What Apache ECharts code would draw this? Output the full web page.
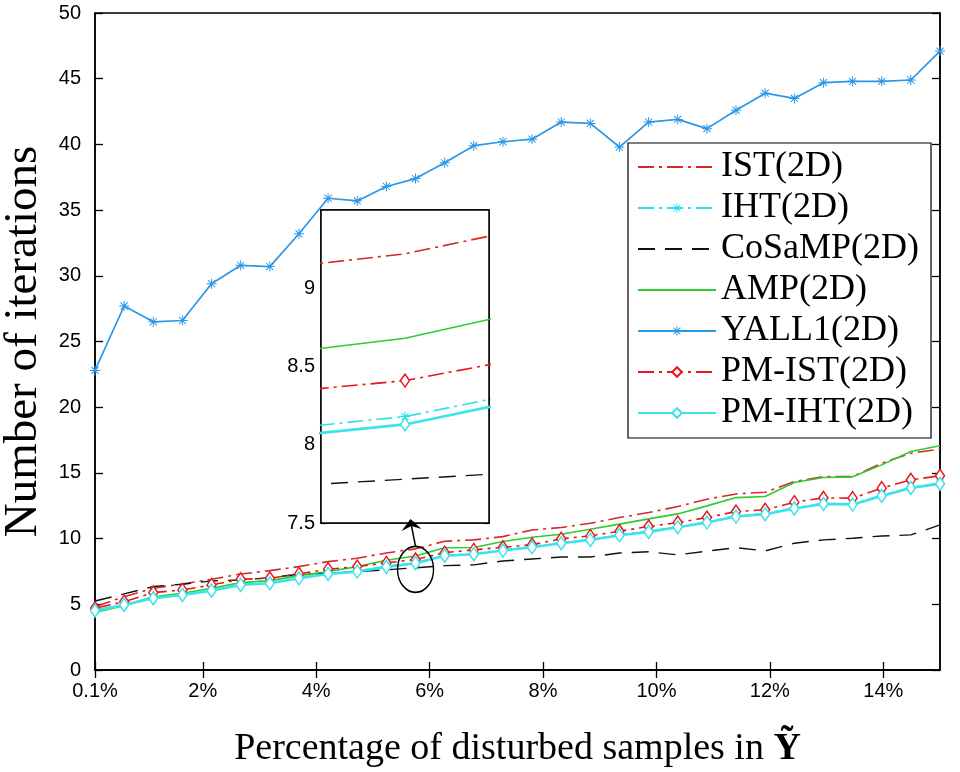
<!DOCTYPE html>
<html>
<head>
<meta charset="utf-8">
<script src="https://cdn.jsdelivr.net/npm/echarts@6/dist/echarts.min.js"></script>
<style>html,body{margin:0;padding:0;background:#fff}#c{width:960px;height:772px}</style>
</head>
<body>
<div id="c"></div>
<script>
// ---------------- data ----------------
const xPct = [0.1, 0.614, 1.128, 1.641, 2.155, 2.669, 3.183, 3.697, 4.210, 4.724,
              5.238, 5.752, 6.266, 6.779, 7.293, 7.807, 8.321, 8.834, 9.348, 9.862,
              10.376, 10.890, 11.403, 11.917, 12.431, 12.945, 13.459, 13.972, 14.486, 15.0];
const istV    = [4.82, 5.58, 6.22, 6.55, 6.90, 7.31, 7.56, 7.87, 8.25, 8.50,
                 8.91, 9.22, 9.80, 9.90, 10.15, 10.66, 10.84, 11.17, 11.60, 11.98,
                 12.44, 13.00, 13.40, 13.53, 14.34, 14.72, 14.72, 15.74, 16.50, 16.81];
const ihtV    = [4.56, 5.00, 5.50, 5.76, 6.09, 6.52, 6.65, 7.03, 7.36, 7.54,
                 7.90, 8.18, 8.74, 8.86, 9.14, 9.39, 9.70, 9.95, 10.31, 10.56,
                 10.92, 11.27, 11.73, 11.91, 12.34, 12.69, 12.64, 13.30, 13.91, 14.22];
const cosampV = [5.25, 5.79, 6.35, 6.53, 6.78, 6.85, 7.03, 7.29, 7.36, 7.49,
                 7.62, 7.78, 7.94, 8.00, 8.30, 8.45, 8.60, 8.60, 8.90, 9.00,
                 8.76, 9.05, 9.31, 9.06, 9.65, 9.90, 10.03, 10.20, 10.28, 11.04];
const ampV    = [4.37, 4.90, 5.58, 5.84, 6.22, 6.65, 6.80, 7.18, 7.49, 7.87,
                 8.35, 8.68, 9.30, 9.32, 9.78, 10.10, 10.33, 10.71, 11.10, 11.50,
                 11.88, 12.49, 13.12, 13.20, 14.27, 14.65, 14.70, 15.61, 16.63, 17.06];
const yall1V  = [22.8, 27.7, 26.5, 26.6, 29.4, 30.8, 30.7, 33.2, 35.9, 35.7,
                 36.8, 37.4, 38.6, 39.9, 40.2, 40.4, 41.7, 41.6, 39.8, 41.7,
                 41.9, 41.2, 42.6, 43.9, 43.5, 44.7, 44.8, 44.8, 44.9, 47.1];
const pmistV  = [4.70, 5.20, 5.89, 6.09, 6.47, 6.90, 6.98, 7.31, 7.67, 7.87,
                 8.15, 8.41, 8.93, 9.14, 9.34, 9.54, 9.98, 10.20, 10.56, 10.92,
                 11.22, 11.60, 12.06, 12.19, 12.77, 13.10, 13.08, 13.84, 14.47, 14.78];
const pmihtV  = [4.52, 4.95, 5.46, 5.71, 6.04, 6.47, 6.60, 6.98, 7.31, 7.49,
                 7.85, 8.13, 8.70, 8.81, 9.09, 9.34, 9.65, 9.90, 10.26, 10.51,
                 10.87, 11.22, 11.68, 11.86, 12.29, 12.64, 12.59, 13.25, 13.86, 14.17];
const xTicks = [0.1, 2, 4, 6, 8, 10, 12, 14];
const seriesNames = ['IST(2D)', 'IHT(2D)', 'CoSaMP(2D)', 'AMP(2D)', 'YALL1(2D)', 'PM-IST(2D)', 'PM-IHT(2D)'];
const insetX = [5.652, 5.852];
const insetY = [7.5, 9.5];
const zoomFocus = [5.752, 7.65];

// ---------------- styling ----------------
const STAR = 'path://M9 0L11 0L11 20L9 20Z M0 9L20 9L20 11L0 11Z M3.6 2.2L17.8 16.4L16.4 17.8L2.2 3.6Z M17.8 3.6L3.6 17.8L2.2 16.4L16.4 2.2Z';
const DASHDOT = [16, 5, 3, 5];
const styles = {
  'IST(2D)':    {color: '#D42A2A', type: DASHDOT, width: 1.6, symbol: 'none'},
  'IHT(2D)':    {color: '#2ADFEF', type: DASHDOT, width: 1.6, symbol: STAR, size: 10, star: true},
  'CoSaMP(2D)': {color: '#111111', type: [17, 10], width: 1.4, symbol: 'none'},
  'AMP(2D)':    {color: '#2ECC2E', type: 'solid', width: 1.6, symbol: 'none'},
  'YALL1(2D)':  {color: '#2B97E8', type: 'solid', width: 1.7, symbol: STAR, size: 10, star: true},
  'PM-IST(2D)': {color: '#E8161C', type: DASHDOT, width: 1.6, symbol: 'diamond', size: [9, 13]},
  'PM-IHT(2D)': {color: '#3DE3EA', type: 'solid', width: 2.6, symbol: 'diamond', size: [9, 13]}
};
const dataByName = {
  'IST(2D)': istV, 'IHT(2D)': ihtV, 'CoSaMP(2D)': cosampV, 'AMP(2D)': ampV,
  'YALL1(2D)': yall1V, 'PM-IST(2D)': pmistV, 'PM-IHT(2D)': pmihtV
};
function mkSeries(name, xi, yi, z) {
  const s = styles[name];
  const arr = dataByName[name];
  const itemStyle = s.star ? {color: s.color} : {color: '#fff', borderColor: s.color, borderWidth: 1.5};
  return {
    name: name, type: 'line', xAxisIndex: xi, yAxisIndex: yi, z: z,
    data: xPct.map((x, i) => [x, arr[i]]),
    symbol: s.symbol, symbolSize: s.size || 8, showSymbol: s.symbol !== 'none',
    itemStyle: itemStyle,
    lineStyle: {color: s.color, width: s.width, type: s.type},
    clip: true, silent: true
  };
}
const series = [];
seriesNames.forEach((n, k) => series.push(mkSeries(n, 0, 0, 2 + k * 0.01)));
seriesNames.filter(n => n !== 'YALL1(2D)').forEach((n, k) => series.push(mkSeries(n, 2, 2, 10 + k * 0.01)));

const legendData = seriesNames.map(n => styles[n].symbol === 'none'
  ? {name: n, itemStyle: {opacity: 0, borderWidth: 0}}
  : {name: n});

const SANS = 'Liberation Sans';
const SERIF = 'Liberation Serif';
const axisLine = {show: true, lineStyle: {color: '#000', width: 1.5}};

const option = {
  animation: false,
  backgroundColor: '#fff',
  grid: [
    {left: 95, right: 20, top: 13, bottom: 102, show: true, borderColor: '#000', borderWidth: 1.5,
     backgroundColor: 'rgba(0,0,0,0)', outerBoundsMode: 'none', containLabel: false},
    {left: 321, top: 210, width: 168, height: 313, show: true, borderColor: '#000', borderWidth: 1.5,
     backgroundColor: '#fff', z: 5, outerBoundsMode: 'none', containLabel: false}
  ],
  legend: {
    orient: 'vertical', left: 628, top: 143,
    data: legendData,
    itemWidth: 78, itemHeight: 12, itemGap: 5,
    padding: [6, 12, 7, 9],
    backgroundColor: '#fff', borderColor: '#000', borderWidth: 1.2,
    textStyle: {fontFamily: SERIF, fontSize: 36, color: '#000', lineHeight: 36, padding: [0, 0, 0, 0]},
    selectedMode: false, z: 20
  },
  xAxis: [
    {type: 'value', gridIndex: 0, min: 0.1, max: 15, position: 'bottom',
     axisLine: axisLine,
     axisTick: {show: true, inside: true, length: 8, customValues: xTicks, lineStyle: {color: '#000', width: 1.3}},
     axisLabel: {show: true, customValues: xTicks, formatter: v => v + '%', fontFamily: SANS, fontSize: 20, color: '#000', margin: 11},
     splitLine: {show: false},
     name: 'Percentage of disturbed samples in {b|Ỹ}', nameLocation: 'middle', nameGap: 60,
     nameTextStyle: {fontFamily: SERIF, fontSize: 38, color: '#000',
       rich: {b: {fontFamily: SERIF, fontSize: 38, fontWeight: 'bold', color: '#000'}}}},
    {type: 'value', gridIndex: 0, min: 0.1, max: 15, position: 'top',
     axisLine: axisLine,
     axisTick: {show: true, inside: true, length: 8, customValues: xTicks, lineStyle: {color: '#000', width: 1.3}},
     axisLabel: {show: false}, splitLine: {show: false}},
    {type: 'value', gridIndex: 1, min: insetX[0], max: insetX[1], position: 'bottom',
     axisLine: axisLine, axisTick: {show: false}, axisLabel: {show: false}, splitLine: {show: false}},
    {type: 'value', gridIndex: 1, min: insetX[0], max: insetX[1], position: 'top',
     axisLine: axisLine, axisTick: {show: false}, axisLabel: {show: false}, splitLine: {show: false}}
  ],
  yAxis: [
    {type: 'value', gridIndex: 0, min: 0, max: 50, interval: 5, position: 'left',
     axisLine: axisLine,
     axisTick: {show: true, inside: true, length: 8, lineStyle: {color: '#000', width: 1.3}},
     axisLabel: {fontFamily: SANS, fontSize: 20, color: '#000', margin: 14},
     splitLine: {show: false},
     name: 'Number of iterations', nameLocation: 'middle', nameRotate: 90, nameGap: 48,
     nameTextStyle: {fontFamily: SERIF, fontSize: 47, color: '#000'}},
    {type: 'value', gridIndex: 0, min: 0, max: 50, interval: 5, position: 'right',
     axisLine: axisLine,
     axisTick: {show: true, inside: true, length: 8, lineStyle: {color: '#000', width: 1.3}},
     axisLabel: {show: false}, splitLine: {show: false}},
    {type: 'value', gridIndex: 1, min: insetY[0], max: insetY[1], interval: 0.5, position: 'left',
     axisLine: axisLine,
     axisTick: {show: true, inside: true, length: 5, lineStyle: {color: '#000', width: 1.2}},
     axisLabel: {fontFamily: SANS, fontSize: 20, color: '#000', margin: 6, showMaxLabel: false},
     splitLine: {show: false}},
    {type: 'value', gridIndex: 1, min: insetY[0], max: insetY[1], interval: 0.5, position: 'right',
     axisLine: axisLine,
     axisTick: {show: true, inside: true, length: 5, lineStyle: {color: '#000', width: 1.2}},
     axisLabel: {show: false}, splitLine: {show: false}}
  ],
  series: series
};

const chart = echarts.init(document.getElementById('c'), null, {renderer: 'canvas'});
chart.setOption(option);

// annotation: ellipse around the zoomed point + arrow to inset
const c = chart.convertToPixel({xAxisIndex: 0, yAxisIndex: 0}, zoomFocus);
const insetBottom = chart.convertToPixel({xAxisIndex: 2, yAxisIndex: 2}, [insetX[0], insetY[0]])[1];
const rx = 18, ry = 23;
const tip = [c[0] - 5, insetBottom - 4];
const base = [c[0], c[1] - ry];
chart.setOption({
  graphic: [
    {type: 'circle', x: c[0], y: c[1], scaleX: 1, scaleY: ry / rx, shape: {cx: 0, cy: 0, r: rx},
     style: {fill: 'none', stroke: '#000', lineWidth: 1.4}, z: 30, silent: true},
    {type: 'line', shape: {x1: base[0], y1: base[1], x2: tip[0] + 1, y2: tip[1] + 7},
     style: {stroke: '#000', lineWidth: 1.5}, z: 30, silent: true},
    {type: 'polygon', shape: {points: [[tip[0], tip[1]], [tip[0] - 9, tip[1] + 12], [tip[0] + 1, tip[1] + 7], [tip[0] + 11, tip[1] + 10]]},
     style: {fill: '#000'}, z: 31, silent: true}
  ]
});
</script>
</body>
</html>
